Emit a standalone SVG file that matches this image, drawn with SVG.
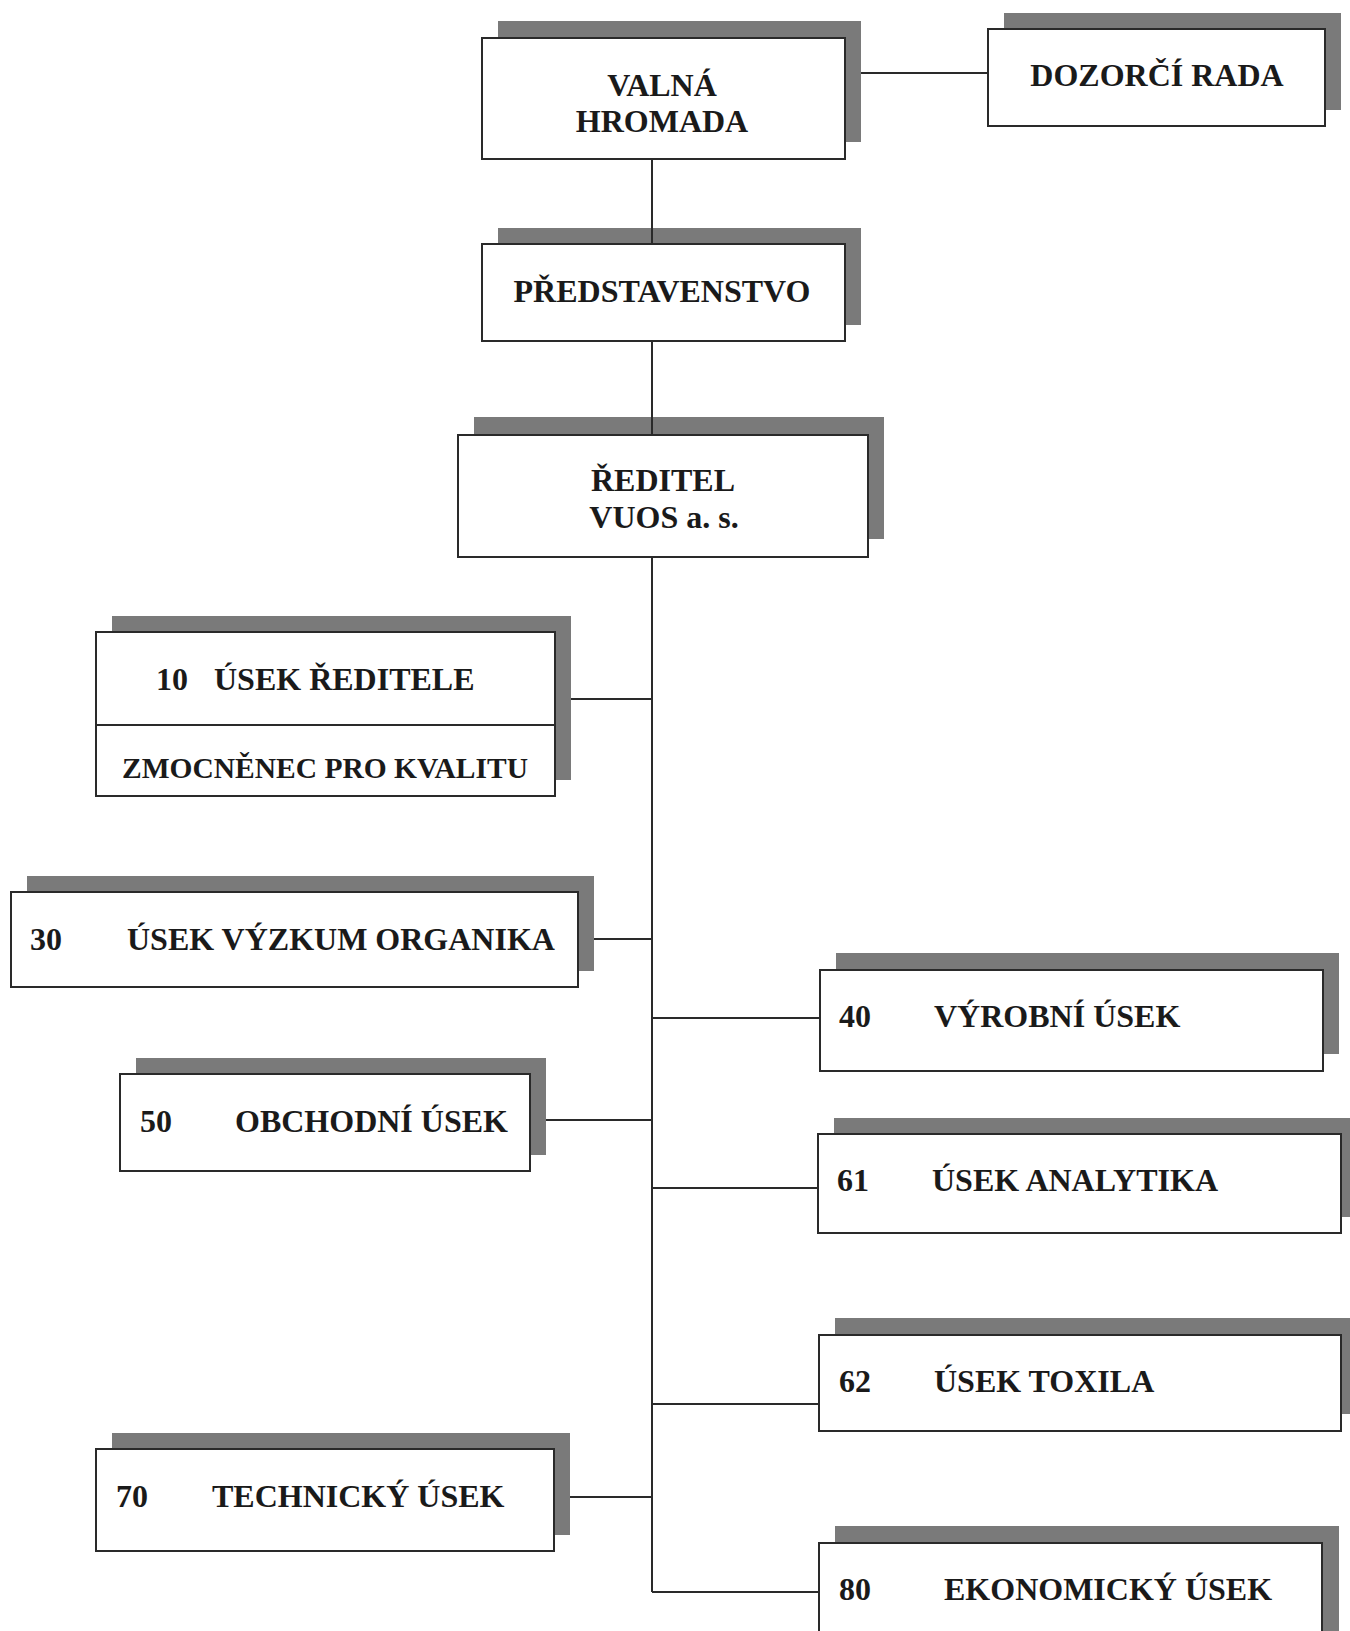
<svg xmlns="http://www.w3.org/2000/svg" width="1350" height="1631" viewBox="0 0 1350 1631">
<style>
.sh{fill:#7a7a7a}
.bx{fill:#ffffff;stroke:#2a2a2a;stroke-width:2}
.t{font-family:"Liberation Serif","Times New Roman",serif;font-weight:bold;font-size:32px;fill:#1a1a1a}
.m{text-anchor:middle}
.c{stroke:#2a2a2a;stroke-width:2;fill:none}
</style>
<rect width="1350" height="1631" fill="#ffffff"/>
<g id="valna-hromada">
<rect class="sh" x="498" y="21" width="363" height="121"/>
<rect class="bx" x="482" y="38" width="363" height="121"/>
<text class="t m" x="662" y="96">VALNÁ</text>
<text class="t m" x="662" y="132">HROMADA</text>
</g>
<g id="dozorci-rada">
<rect class="sh" x="1004" y="13" width="337" height="97"/>
<rect class="bx" x="988" y="29" width="337" height="97"/>
<text class="t m" x="1157" y="86">DOZORČÍ RADA</text>
</g>
<g id="predstavenstvo">
<rect class="sh" x="498" y="228" width="363" height="97"/>
<rect class="bx" x="482" y="244" width="363" height="97"/>
<text class="t m" x="662" y="302">PŘEDSTAVENSTVO</text>
</g>
<g id="reditel">
<rect class="sh" x="474" y="417" width="410" height="122"/>
<rect class="bx" x="458" y="435" width="410" height="122"/>
<text class="t m" x="663" y="491">ŘEDITEL</text>
<text class="t m" x="664" y="528">VUOS a. s.</text>
</g>
<g id="usek-10">
<rect class="sh" x="112" y="616" width="459" height="164"/>
<rect class="bx" x="96" y="632" width="459" height="164"/>
<line class="c" x1="96" y1="725" x2="555" y2="725"/>
<text class="t" x="156" y="690">10</text>
<text class="t" x="214" y="690">ÚSEK ŘEDITELE</text>
<text class="t m" x="325" y="778" style="font-size:29.5px">ZMOCNĚNEC PRO KVALITU</text>
</g>
<g id="usek-30">
<rect class="sh" x="27" y="876" width="567" height="95"/>
<rect class="bx" x="11" y="892" width="567" height="95"/>
<text class="t" x="30" y="950">30</text>
<text class="t" x="127" y="950">ÚSEK VÝZKUM ORGANIKA</text>
</g>
<g id="usek-40">
<rect class="sh" x="836" y="953" width="503" height="101"/>
<rect class="bx" x="820" y="970" width="503" height="101"/>
<text class="t" x="839" y="1027">40</text>
<text class="t" x="934" y="1027">VÝROBNÍ ÚSEK</text>
</g>
<g id="usek-50">
<rect class="sh" x="136" y="1058" width="410" height="97"/>
<rect class="bx" x="120" y="1074" width="410" height="97"/>
<text class="t" x="140" y="1132">50</text>
<text class="t" x="235" y="1132">OBCHODNÍ ÚSEK</text>
</g>
<g id="usek-61">
<rect class="sh" x="834" y="1118" width="523" height="99"/>
<rect class="bx" x="818" y="1134" width="523" height="99"/>
<text class="t" x="837" y="1191">61</text>
<text class="t" x="932" y="1191">ÚSEK ANALYTIKA</text>
</g>
<g id="usek-62">
<rect class="sh" x="835" y="1318" width="522" height="96"/>
<rect class="bx" x="819" y="1335" width="522" height="96"/>
<text class="t" x="839" y="1392">62</text>
<text class="t" x="934" y="1392">ÚSEK TOXILA</text>
</g>
<g id="usek-70">
<rect class="sh" x="112" y="1433" width="458" height="102"/>
<rect class="bx" x="96" y="1449" width="458" height="102"/>
<text class="t" x="116" y="1507">70</text>
<text class="t" x="212" y="1507">TECHNICKÝ ÚSEK</text>
</g>
<g id="usek-80">
<rect class="sh" x="835" y="1526" width="504" height="130"/>
<rect class="bx" x="819" y="1543" width="503" height="130"/>
<text class="t" x="839" y="1600">80</text>
<text class="t" x="944" y="1600">EKONOMICKÝ ÚSEK</text>
</g>
<g id="connectors">
<line class="c" x1="861" y1="73" x2="988" y2="73"/>
<line class="c" x1="652" y1="159" x2="652" y2="244"/>
<line class="c" x1="652" y1="341" x2="652" y2="435"/>
<line class="c" x1="652" y1="557" x2="652" y2="1592"/>
<line class="c" x1="571" y1="699" x2="652" y2="699"/>
<line class="c" x1="594" y1="939" x2="652" y2="939"/>
<line class="c" x1="652" y1="1018" x2="820" y2="1018"/>
<line class="c" x1="546" y1="1120" x2="652" y2="1120"/>
<line class="c" x1="652" y1="1188" x2="818" y2="1188"/>
<line class="c" x1="652" y1="1404" x2="819" y2="1404"/>
<line class="c" x1="570" y1="1497" x2="652" y2="1497"/>
<line class="c" x1="652" y1="1592" x2="819" y2="1592"/>
</g>
</svg>
